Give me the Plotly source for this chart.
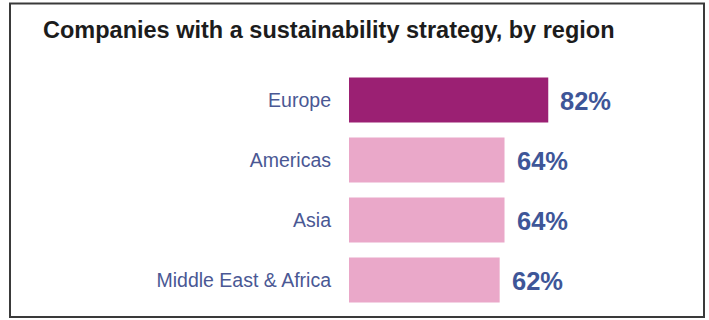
import plotly.graph_objects as go

regions = ["Europe", "Americas", "Asia", "Middle East & Africa"]
values = [82, 64, 64, 62]
bar_colors = ["#9b2073", "#eaa8c9", "#eaa8c9", "#eaa8c9"]
title = "Companies with a sustainability strategy, by region"

W, H = 709, 320
ML, MR, MT, MB = 349, 117, 70, 10
XMAX = 100

def px2px(x):
    return (x - ML) / (W - ML - MR)

def py2py(y):
    return 1 - (y - MT) / (H - MT - MB)

fig = go.Figure(go.Bar(
    x=values, y=regions, orientation="h",
    marker=dict(color=bar_colors, line=dict(width=0)),
    hoverinfo="skip",
))

for r, v in zip(regions, values):
    fig.add_annotation(x=v, y=r, text=f"<b>{v}%</b>", showarrow=False,
                       xanchor="left", xshift=10, yshift=-1,
                       font=dict(family="Liberation Sans", size=25.5, color="#3e5698"))

fig.add_shape(type="rect", xref="paper", yref="paper",
              x0=px2px(10), x1=px2px(704), y0=py2py(317), y1=py2py(3.5),
              line=dict(color="#3a3a3a", width=2), layer="above")

fig.update_layout(
    width=W, height=H, autosize=False,
    margin=dict(l=ML, r=MR, t=MT, b=MB),
    paper_bgcolor="white", plot_bgcolor="white",
    bargap=0.25, showlegend=False,
    title=dict(text=f"<b>{title}</b>", x=43 / W, xref="container", xanchor="left",
               y=1 - 30 / H, yref="container", yanchor="middle",
               font=dict(family="Liberation Sans", size=23.5, color="#1c1c1c")),
    xaxis=dict(range=[0, XMAX], visible=False, fixedrange=True),
    yaxis=dict(autorange="reversed", showgrid=False, showline=False, zeroline=False,
               ticks="", ticklabelstandoff=17,
               tickfont=dict(family="Liberation Sans", size=19.5, color="#4a5894")),
)

fig.write_html("out.html")
